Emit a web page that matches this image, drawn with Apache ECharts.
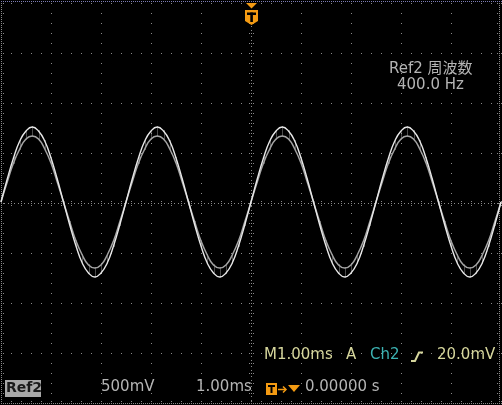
<!DOCTYPE html>
<html><head><meta charset="utf-8">
<script src="https://cdn.jsdelivr.net/npm/echarts@6/dist/echarts.min.js"></script>
<style>html,body{margin:0;padding:0;background:#000;}#c{width:502px;height:405px;}</style>
</head><body><div id="c"></div>
<script>
// time axis in ms, 1.00 ms/div, trigger at 0
var timeMs = [];
// sampled every 0.125 ms from -5 ms to 5 ms
var timeStart = -5, timeStep = 0.125;
// Ref2 trace, outer (bright) envelope, volts (500 mV/div)
var traceOuter = [
 0.01,0.24,0.45,0.62,0.72,0.76,0.72,0.62,0.45,0.24,0.01,-0.22,-0.43,-0.60,-0.70,-0.74,-0.70,-0.60,-0.43,-0.22,
 0.01,0.24,0.45,0.62,0.72,0.76,0.72,0.62,0.45,0.24,0.01,-0.22,-0.43,-0.60,-0.70,-0.74,-0.70,-0.60,-0.43,-0.22,
 0.01,0.24,0.45,0.62,0.72,0.76,0.72,0.62,0.45,0.24,0.01,-0.22,-0.43,-0.60,-0.70,-0.74,-0.70,-0.60,-0.43,-0.22,
 0.01,0.24,0.45,0.62,0.72,0.76,0.72,0.62,0.45,0.24,0.01,-0.22,-0.43,-0.60,-0.70,-0.74,-0.70,-0.60,-0.43,-0.22,
 0.01];
// Ref2 trace, inner (dimmer) envelope, volts
var traceInner = [
 0.01,0.21,0.40,0.54,0.64,0.67,0.64,0.54,0.40,0.21,0.01,-0.19,-0.38,-0.52,-0.62,-0.65,-0.62,-0.52,-0.38,-0.19,
 0.01,0.21,0.40,0.54,0.64,0.67,0.64,0.54,0.40,0.21,0.01,-0.19,-0.38,-0.52,-0.62,-0.65,-0.62,-0.52,-0.38,-0.19,
 0.01,0.21,0.40,0.54,0.64,0.67,0.64,0.54,0.40,0.21,0.01,-0.19,-0.38,-0.52,-0.62,-0.65,-0.62,-0.52,-0.38,-0.19,
 0.01,0.21,0.40,0.54,0.64,0.67,0.64,0.54,0.40,0.21,0.01,-0.19,-0.38,-0.52,-0.62,-0.65,-0.62,-0.52,-0.38,-0.19,
 0.01];
// graticule divisions
var xDivs = [-5,-4,-3,-2,-1,0,1,2,3,4,5];
var yDivs = [-2,-1.5,-1,-0.5,0,0.5,1,1.5,2];
// readouts
var measLabel = 'Ref2 周波数';
var measValue = '400.0 Hz';
var refName = 'Ref2', voltsDiv = '500mV', timeDiv = '1.00ms', trigPos = '0.00000 s';
var horiz = 'M1.00ms', trigMode = 'A', trigSrc = 'Ch2', trigLevel = '20.0mV';

for (var i = 0; i < traceOuter.length; i++) timeMs.push(+(timeStart + i * timeStep).toFixed(3));
var outerData = timeMs.map(function (t, i) { return [t, traceOuter[i]]; });
var innerData = timeMs.map(function (t, i) { return [t, traceInner[i]]; });
var bandData = timeMs.map(function (t, i) { return [t, traceOuter[i], traceInner[i]]; });

var GRID = '#8a8a8a';
function graticule(params, api) {
  var ch = [];
  var p0 = api.coord([-5, 2]), p1 = api.coord([5, -2]);
  var x0 = Math.round(p0[0]), y0 = Math.round(p0[1]), x1 = Math.round(p1[0]), y1 = Math.round(p1[1]);
  function dot(x, y, c) { ch.push({type: 'rect', shape: {x: x, y: y, width: 1, height: 1}, style: {fill: c || GRID}, silent: true}); }
  xDivs.forEach(function (v) {
    var x = Math.round(api.coord([v, 0])[0]);
    if (x === x0 || x === x1) return;
    for (var y = y0; y <= y1; y += 10) dot(x, y);
  });
  yDivs.forEach(function (v) {
    var y = Math.round(api.coord([0, v])[1]);
    if (y === y0 || y === y1) return;
    for (var x = x0; x <= x1; x += 10) dot(x, y);
  });
  var cx = Math.round(api.coord([0, 0])[0]), cy = Math.round(api.coord([0, 0])[1]);
  for (var x = x0; x <= x1; x += 10) {
    dot(x + 3, cy); dot(x + 7, cy);
    dot(x, cy - 2); dot(x, cy); dot(x, cy + 2);
  }
  for (var y = y0; y <= y1; y += 10) {
    dot(cx, y + 3); dot(cx, y + 7);
    dot(cx - 2, y); dot(cx, y); dot(cx + 2, y);
  }
  for (var x = x0; x <= x1; x += 2) { dot(x, y1); }
  for (var x = x0; x <= x1; x += 2) { dot(x, y0 - 2, '#7c7cb4'); }
  for (var x = x0; x <= x1; x += 10) { dot(x, y0); dot(x, y1 - 2); }
  for (var y = y0; y <= y1; y += 2) { dot(x0, y); dot(x1 - 2, y); }
  for (var y = y0; y <= y1; y += 10) { dot(x0 + 2, y); dot(x1 - 4, y); }
  return {type: 'group', children: ch};
}
// faint vertical acquisition strokes between the two envelopes
function band(params, api) {
  var a = api.coord([api.value(0), api.value(1)]);
  var b = api.coord([api.value(0), api.value(2)]);
  var top = Math.min(a[1], b[1]) - 1, bot = Math.max(a[1], b[1]) + 1;
  var x = Math.round(a[0]) + 0.5;
  return {type: 'line', shape: {x1: x, y1: top, x2: x, y2: bot}, style: {stroke: '#bcbcbc', lineWidth: 1, opacity: 0.4}, silent: true};
}

var chart = echarts.init(document.getElementById('c'));
var FONT = '"DejaVu Sans", "Noto Sans CJK JP", sans-serif';
var YEL = '#d6d69c', CYAN = '#3cb2b2', GRAY = '#b4b4b4', ORANGE = '#f39a12';
var F = '15px ' + FONT;
chart.setOption({
  backgroundColor: '#000',
  animation: false,
  grid: {left: 1, width: 500, top: 3, height: 400},
  xAxis: {type: 'value', min: -5, max: 5, interval: 1, show: false},
  yAxis: {type: 'value', min: -2, max: 2, interval: 0.5, show: false},
  series: [
    {type: 'custom', renderItem: graticule, data: [[0, 0]], silent: true, z: 1},
    {type: 'custom', renderItem: band, data: bandData, silent: true, z: 2},
    {type: 'line', data: innerData, smooth: true, showSymbol: false, symbol: 'none', silent: true,
     lineStyle: {color: '#a4a4a4', width: 1.5}, z: 3},
    {type: 'line', data: outerData, smooth: true, showSymbol: false, symbol: 'none', silent: true,
     lineStyle: {color: '#e8e8e8', width: 1.4}, z: 4}
  ],
  graphic: [
    {type: 'polygon', shape: {points: [[246, 3], [257, 3], [251.5, 8.5]]}, style: {fill: ORANGE}, z: 10},
    {type: 'polygon', shape: {points: [[245, 10], [258, 10], [258, 21], [251.5, 25], [245, 21]]}, style: {fill: ORANGE}, z: 10},
    {type: 'rect', shape: {x: 247, y: 12.5, width: 9, height: 2.5}, style: {fill: '#000'}, z: 11},
    {type: 'rect', shape: {x: 250.3, y: 12.5, width: 2.6, height: 9.5}, style: {fill: '#000'}, z: 11},
    {type: 'text', left: 389, top: 62, style: {text: measLabel, fill: GRAY, font: F}, z: 10},
    {type: 'text', left: 397, top: 78, style: {text: measValue, fill: GRAY, font: F}, z: 10},
    {type: 'text', left: 264, top: 348, style: {text: horiz, fill: YEL, font: F}, z: 10},
    {type: 'text', left: 346, top: 348, style: {text: trigMode, fill: YEL, font: F}, z: 10},
    {type: 'text', left: 370, top: 348, style: {text: trigSrc, fill: CYAN, font: F}, z: 10},
    {type: 'polyline', shape: {points: [[411, 361], [415, 361], [419, 352.5], [423, 352.5]]}, style: {stroke: YEL, lineWidth: 2, fill: null}, z: 10},
    {type: 'text', left: 437, top: 348, style: {text: trigLevel, fill: YEL, font: F}, z: 10},
    {type: 'rect', shape: {x: 5, y: 380, width: 36, height: 17}, style: {fill: '#a8a8a8'}, z: 10},
    {type: 'text', left: 6, top: 381, style: {text: refName, fill: '#1a1a1a', font: 'bold 14px ' + FONT}, z: 11},
    {type: 'text', left: 101, top: 380, style: {text: voltsDiv, fill: GRAY, font: F}, z: 10},
    {type: 'text', left: 196, top: 380, style: {text: timeDiv, fill: GRAY, font: F}, z: 10},
    {type: 'rect', shape: {x: 266, y: 383, width: 11, height: 12}, style: {fill: ORANGE}, z: 10},
    {type: 'rect', shape: {x: 268, y: 385, width: 7, height: 2}, style: {fill: '#000'}, z: 11},
    {type: 'rect', shape: {x: 270.5, y: 385, width: 2, height: 8}, style: {fill: '#000'}, z: 11},
    {type: 'polyline', shape: {points: [[278, 389.5], [286, 389.5]]}, style: {stroke: ORANGE, lineWidth: 1.5, fill: null}, z: 10},
    {type: 'polyline', shape: {points: [[283, 386.5], [286, 389.5], [283, 392.5]]}, style: {stroke: ORANGE, lineWidth: 1.5, fill: null}, z: 10},
    {type: 'polygon', shape: {points: [[288, 385], [300, 385], [294, 392]]}, style: {fill: ORANGE}, z: 10},
    {type: 'text', left: 305, top: 380, style: {text: trigPos, fill: GRAY, font: F}, z: 10}
  ]
});
</script></body></html>
